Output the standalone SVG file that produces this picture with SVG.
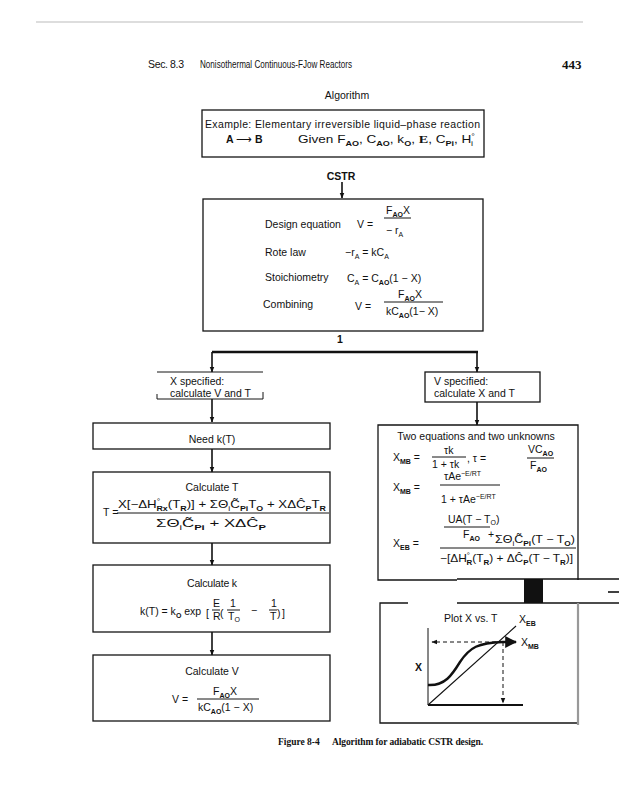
<svg xmlns="http://www.w3.org/2000/svg" width="619" height="800" viewBox="0 0 619 800">
<defs>
<style>
.t{font-family:"Liberation Sans",Arial,sans-serif;font-size:10.5px;fill:#111}
.b{font-weight:bold}
.s{font-size:7px}
.box{fill:none;stroke:#151515;stroke-width:1.3}
.ln{stroke:#151515;stroke-width:1;fill:none}
.conn{stroke:#111;stroke-width:1.6;fill:none}
.serif{font-family:"Liberation Serif","Times New Roman",serif}
</style>
<marker id="ah" viewBox="0 0 10 10" refX="9" refY="5" markerWidth="5" markerHeight="5" orient="auto">
<path d="M0,0 L10,5 L0,10 z" fill="#111"/>
</marker>
<marker id="ahs" viewBox="0 0 10 10" refX="9" refY="5" markerWidth="6" markerHeight="6" orient="auto" markerUnits="userSpaceOnUse">
<path d="M0,1 L10,5 L0,9 z" fill="#111"/>
</marker>
</defs>
<rect width="619" height="800" fill="#fff"/>

<g id="header">
<line x1="36" y1="22" x2="583" y2="22" stroke="#bbb" stroke-width="1"/>
<text class="t" x="148" y="68" font-size="9.5" fill="#333" textLength="36">Sec. 8.3</text>
<text class="t" x="200" y="68" font-size="10" textLength="152" lengthAdjust="spacingAndGlyphs">Nonisothermal Continuous-FJow Reactors</text>
<text class="serif b" x="562" y="69" font-size="13" fill="#111">443</text>
</g>

<g id="title">
<text class="t" x="347" y="99" text-anchor="middle" font-size="11">Algorithm</text>
</g>

<g id="example">
<rect class="box" x="202" y="110" width="282" height="47"/>
<text class="t" x="205" y="128" font-size="11" textLength="275">Example: Elementary irreversible liquid–phase reaction</text>
<text class="t b" x="226" y="143">A <tspan font-weight="normal">⟶</tspan> B</text>
<text class="t" x="298" y="143" font-size="11" textLength="177" lengthAdjust="spacingAndGlyphs">Given  F<tspan class="s b" dy="3">AO</tspan><tspan dy="-3">, C</tspan><tspan class="s b" dy="3">AO</tspan><tspan dy="-3">, k</tspan><tspan class="s b" dy="3">O</tspan><tspan dy="-3">, </tspan><tspan class="serif b" font-size="11">E</tspan><tspan>, C</tspan><tspan class="s b" dy="3">Pi</tspan><tspan dy="-3">, H</tspan><tspan class="s" dy="-4">°</tspan><tspan class="s" dx="-3" dy="7">i</tspan></text>
</g>

<g id="cstr">
<text class="t b" x="341" y="180" text-anchor="middle">CSTR</text>
</g>

<g id="design">
<rect class="box" x="203" y="199" width="280" height="132"/>
<text class="t" x="265" y="228">Design equation</text>
<text class="t" x="357" y="228">V =</text>
<text class="t" x="386" y="214">F<tspan class="s b" dy="3">AO</tspan><tspan dy="-3">X</tspan></text>
<line class="ln" x1="384" y1="218" x2="411" y2="218"/>
<text class="t" x="386" y="234">− r<tspan class="s" dy="3">A</tspan></text>
<text class="t" x="265" y="256">Rote law</text>
<text class="t" x="345" y="256">−r<tspan class="s" dy="3">A</tspan><tspan dy="-3"> = kC</tspan><tspan class="s" dy="3">A</tspan></text>
<text class="t" x="265" y="281">Stoichiometry</text>
<text class="t" x="347" y="282">C<tspan class="s" dy="3">A</tspan><tspan dy="-3"> = C</tspan><tspan class="s b" dy="3">AO</tspan><tspan dy="-3">(1 − X)</tspan></text>
<text class="t" x="263" y="308">Combining</text>
<text class="t" x="355" y="310">V =</text>
<text class="t" x="398" y="298">F<tspan class="s b" dy="3">AO</tspan><tspan dy="-3">X</tspan></text>
<line class="ln" x1="384" y1="302" x2="443" y2="302"/>
<text class="t" x="386" y="315">kC<tspan class="s b" dy="3">AO</tspan><tspan dy="-3">(1− X)</tspan></text>
</g>

<g id="one">
<text class="t b" x="340" y="343" text-anchor="middle" font-size="14">1</text>
</g>

<g id="connectors">
<line class="conn" x1="342" y1="182" x2="342" y2="198" marker-end="url(#ahs)"/>
<line x1="212" y1="352" x2="478" y2="352" stroke="#111" stroke-width="2.6"/>
<line class="conn" x1="212" y1="352" x2="212" y2="372" marker-end="url(#ahs)"/>
<line class="conn" x1="212" y1="399" x2="212" y2="422" marker-end="url(#ahs)"/>
<line class="conn" x1="212" y1="449" x2="212" y2="472" marker-end="url(#ahs)"/>
<line class="conn" x1="212" y1="543" x2="212" y2="565" marker-end="url(#ahs)"/>
<line class="conn" x1="212" y1="632" x2="212" y2="655" marker-end="url(#ahs)"/>
<line class="conn" x1="477" y1="352" x2="477" y2="372" marker-end="url(#ahs)"/>
<line class="conn" x1="477" y1="402" x2="477" y2="425" marker-end="url(#ahs)"/>
</g>

<g id="xspec">
<line class="ln" x1="157" y1="372" x2="263" y2="372"/>
<line class="ln" x1="157" y1="399" x2="263" y2="399"/>
<line class="ln" x1="157" y1="394" x2="157" y2="399"/>
<line class="ln" x1="263" y1="392" x2="263" y2="399"/>
<text class="t" x="170" y="385">X specified:</text>
<text class="t" x="170" y="397">calculate V and T</text>
</g>

<g id="needk">
<rect class="box" x="93" y="423" width="237" height="26"/>
<text class="t" x="212" y="443" text-anchor="middle">Need k(T)</text>
</g>

<g id="calcT">
<rect class="box" x="93" y="472" width="237" height="71"/>
<text class="t" x="212" y="491" text-anchor="middle">Calculate T</text>
<text class="t" x="103" y="516">T =</text>
<text class="t" x="118" y="508" font-size="11.5" textLength="208" lengthAdjust="spacingAndGlyphs">X[−ΔH<tspan class="s" dy="-4">°</tspan><tspan class="s b" dx="-3" dy="7">Rx</tspan><tspan dy="-3">(T</tspan><tspan class="s b" dy="3">R</tspan><tspan dy="-3">)] + ΣΘ</tspan><tspan class="s" dy="3">i</tspan><tspan dy="-3">C̃</tspan><tspan class="s b" dy="3">Pi</tspan><tspan dy="-3">T</tspan><tspan class="s b" dy="3">O</tspan><tspan dy="-3"> + XΔĈ</tspan><tspan class="s b" dy="3">P</tspan><tspan dy="-3">T</tspan><tspan class="s b" dy="3">R</tspan></text>
<line class="ln" x1="117" y1="513" x2="329" y2="513"/>
<text class="t" x="156" y="527" font-size="11.5" textLength="110" lengthAdjust="spacingAndGlyphs">ΣΘ<tspan class="s" dy="3">i</tspan><tspan dy="-3">C̃</tspan><tspan class="s b" dy="3">Pi</tspan><tspan dy="-3"> + XΔĈ</tspan><tspan class="s b" dy="3">P</tspan></text>
</g>

<g id="calck">
<rect class="box" x="93" y="565" width="237" height="67"/>
<text class="t" x="212" y="587" text-anchor="middle" textLength="50">Calculate k</text>
<text class="t" x="140" y="615">k(T) = k<tspan class="s b" dy="3">O</tspan><tspan dy="-3"> exp</tspan></text>
<text class="t" x="206" y="617" font-size="17">[</text>
<text class="t" x="213" y="607" font-size="9">E</text>
<line class="ln" x1="212" y1="610" x2="220" y2="610"/>
<text class="t" x="213" y="620" font-size="9">R</text>
<text class="t" x="220" y="617" font-size="16">(</text>
<text class="t" x="230" y="607" font-size="9">1</text>
<line class="ln" x1="227" y1="610" x2="240" y2="610"/>
<text class="t" x="228" y="620" font-size="9">T<tspan class="s" dy="2">O</tspan></text>
<text class="t" x="251" y="614">−</text>
<text class="t" x="271" y="607" font-size="9">1</text>
<line class="ln" x1="269" y1="610" x2="277" y2="610"/>
<text class="t" x="270" y="620" font-size="9">T</text>
<text class="t" x="277" y="617" font-size="16">)</text>
<text class="t" x="282" y="617" font-size="17">]</text>
</g>

<g id="calcV">
<rect class="box" x="93" y="655" width="237" height="66"/>
<text class="t" x="212" y="675" text-anchor="middle">Calculate V</text>
<text class="t" x="172" y="703">V =</text>
<text class="t" x="213" y="695">F<tspan class="s b" dy="3">AO</tspan><tspan dy="-3">X</tspan></text>
<line class="ln" x1="197" y1="699" x2="259" y2="699"/>
<text class="t" x="198" y="711">kC<tspan class="s b" dy="3">AO</tspan><tspan dy="-3">(1 − X)</tspan></text>
</g>

<g id="vspec">
<rect class="box" x="425" y="372" width="115" height="30"/>
<text class="t" x="434" y="385">V specified:</text>
<text class="t" x="434" y="397">calculate X and T</text>
</g>

<g id="twoeq">
<path class="box" d="M457,580 H378 V425 H578 V580"/>
<text class="t" x="476" y="440" text-anchor="middle">Two equations and two unknowns</text>
<text class="t" x="393" y="461">X<tspan class="s b" dy="3">MB</tspan><tspan dy="-3"> =</tspan></text>
<text class="t" x="444" y="454">τk</text>
<line class="ln" x1="432" y1="457" x2="466" y2="457"/>
<text class="t" x="432" y="468">1 + τk</text>
<text class="t" x="467" y="462">, τ =</text>
<text class="t" x="528" y="453">VC<tspan class="s b" dy="3">AO</tspan></text>
<line class="ln" x1="527" y1="458" x2="554" y2="458"/>
<text class="t" x="530" y="469">F<tspan class="s b" dy="3">AO</tspan></text>
<text class="t" x="393" y="491">X<tspan class="s b" dy="3">MB</tspan><tspan dy="-3"> =</tspan></text>
<text class="t" x="444" y="480">τAe<tspan class="s" dy="-4">−E/RT</tspan></text>
<line class="ln" x1="440" y1="485" x2="500" y2="485" stroke="#aaa"/>
<text class="t" x="441" y="503">1 + τAe<tspan class="s" dy="-4">−E/RT</tspan></text>
<text class="t" x="393" y="547">X<tspan class="s b" dy="3">EB</tspan><tspan dy="-3"> =</tspan></text>
<text class="t" x="448" y="523" font-size="9.5">UA(T − T<tspan class="s" dy="2">O</tspan><tspan dy="-2">)</tspan></text>
<line class="ln" x1="444" y1="527" x2="490" y2="527"/>
<text class="t" x="463" y="538">F<tspan class="s b" dy="3">AO</tspan></text>
<text class="t" x="488" y="538">+</text>
<text class="t" x="495" y="543" textLength="80" lengthAdjust="spacingAndGlyphs">ΣΘ<tspan class="s" dy="3">i</tspan><tspan dy="-3">C̃</tspan><tspan class="s b" dy="3">Pi</tspan><tspan dy="-3">(T − T</tspan><tspan class="s b" dy="3">O</tspan><tspan dy="-3">)</tspan></text>
<line class="ln" x1="440" y1="548" x2="576" y2="548" stroke-width="1.2"/>
<text class="t" x="440" y="562" font-size="11" textLength="133" lengthAdjust="spacingAndGlyphs">−[ΔH<tspan class="s" dy="-4">°</tspan><tspan class="s b" dx="-3" dy="7">R</tspan><tspan dy="-3">(T</tspan><tspan class="s b" dy="3">R</tspan><tspan dy="-3">) + ΔĈ</tspan><tspan class="s b" dy="3">P</tspan><tspan dy="-3">(T − T</tspan><tspan class="s b" dy="3">R</tspan><tspan dy="-3">)]</tspan></text>
</g>

<g id="band">
<line x1="457" y1="579" x2="619" y2="579" stroke="#111" stroke-width="1.6"/>
<line x1="457" y1="603" x2="619" y2="603" stroke="#111" stroke-width="1.6"/>
<rect x="524" y="579" width="19" height="24" fill="#111"/>
<line x1="608" y1="592" x2="619" y2="592" stroke="#111" stroke-width="1.6"/>
</g>

<g id="plot">
<path class="box" d="M408,603 H380 V723 H578 V603"/>
<line x1="578" y1="603" x2="578" y2="725" stroke="#999" stroke-width="2.2"/>
<text class="t" x="444" y="622">Plot X vs. T</text>
<text class="t b" x="415" y="671">X</text>
<line x1="428" y1="628" x2="428" y2="705" stroke="#111" stroke-width="1"/>
<line x1="428" y1="705" x2="523" y2="705" stroke="#111" stroke-width="2.2"/>
<line x1="428" y1="705" x2="516" y2="626" stroke="#111" stroke-width="1.1"/>
<path d="M428,685 C445,686 452,675 460,662 C470,647 478,643 503,642 L516,642" stroke="#111" stroke-width="2.4" fill="none" marker-end="url(#ah)"/>
<line x1="503" y1="642" x2="432" y2="642" stroke="#111" stroke-width="1" stroke-dasharray="4,3" marker-end="url(#ahs)"/>
<line x1="503" y1="642" x2="503" y2="703" stroke="#111" stroke-width="1" stroke-dasharray="4,3" marker-end="url(#ahs)"/>
<text class="t" x="519" y="623">X<tspan class="s b" dy="3">EB</tspan></text>
<text class="t" x="521" y="646">X<tspan class="s b" dy="3">MB</tspan></text>
</g>

<g id="caption">
<text class="serif b" x="278" y="745" font-size="9.5" fill="#111">Figure 8-4</text>
<text class="serif b" x="332" y="745" font-size="9.5" fill="#111" textLength="151">Algorithm for adiabatic CSTR design.</text>
</g>
</svg>
